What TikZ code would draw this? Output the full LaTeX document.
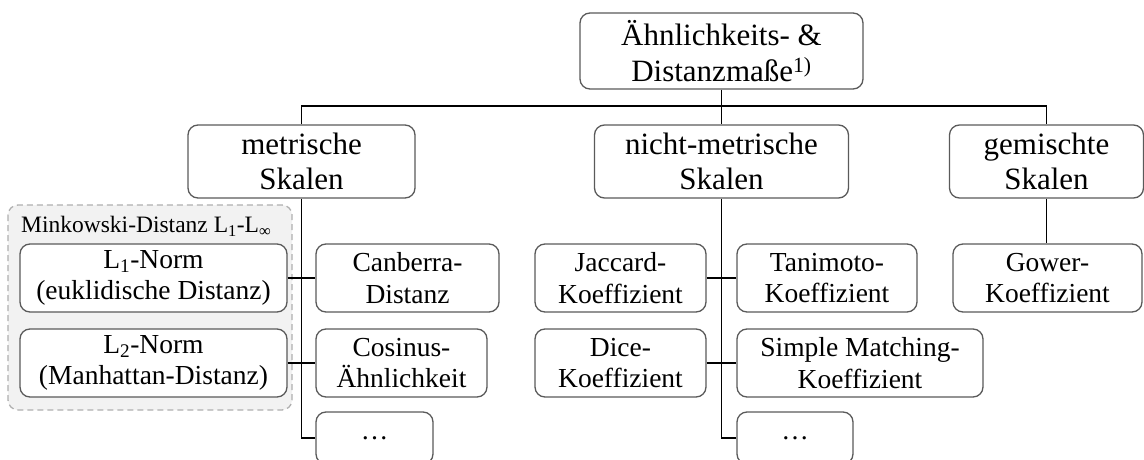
\documentclass[tikz,border=0pt]{standalone}
\usepackage{fontspec}
\setmainfont{Liberation Serif}
\definecolor{boxline}{RGB}{90,90,90}
\definecolor{groupfill}{RGB}{242,242,242}
\definecolor{groupline}{RGB}{175,175,175}
\tikzset{
  box/.style={draw=boxline, line width=1.3pt, rounded corners=10pt, fill=white,
              align=center, inner sep=0pt},
  bigtext/.style={font=\fontsize{31}{35.5}\selectfont},
  smalltext/.style={font=\fontsize{27.5}{31.5}\selectfont},
  link/.style={draw=black, line width=1.6pt},
  groupbox/.style={draw=groupline, dash pattern=on 6pt off 4pt, line width=1.3pt,
                   fill=groupfill, rounded corners=10pt}
}
\begin{document}
\begin{tikzpicture}[x=1pt, y=-1pt]
\useasboundingbox (0,0) rectangle (1144,460);

% Minkowski group background
\draw[groupbox] (8,205) rectangle (292,410);
\node[anchor=west, font=\fontsize{23.5}{27}\selectfont, inner sep=0pt] (mink) at (21,226)
  {Minkowski-Distanz L\textsubscript{1}-L\textsubscript{∞}};

% root and first level
\node[box, bigtext, minimum width=283pt, minimum height=76pt] (root) at (721.5,51)
  {Ähnlichkeits- \&\\Distanzmaße\textsuperscript{1)}};
\node[box, bigtext, minimum width=227pt, minimum height=73pt] (metr) at (301.5,161.5)
  {metrische\\Skalen};
\node[box, bigtext, minimum width=254pt, minimum height=73pt] (nmetr) at (721.5,161.5)
  {nicht-metrische\\Skalen};
\node[box, bigtext, minimum width=194pt, minimum height=73pt] (gem) at (1046.5,161.5)
  {gemischte\\Skalen};

% metric measures
\node[box, smalltext, minimum width=267pt, minimum height=68pt] (lone) at (153.5,278)
  {L\textsubscript{1}-Norm\\(euklidische Distanz)};
\node[box, smalltext, minimum width=267pt, minimum height=68pt] (ltwo) at (153.5,363)
  {L\textsubscript{2}-Norm\\(Manhattan-Distanz)};
\node[box, smalltext, minimum width=183pt, minimum height=68pt] (canb) at (407.5,278)
  {Canberra-\\Distanz};
\node[box, smalltext, minimum width=171pt, minimum height=68pt] (cosi) at (401.5,363)
  {Cosinus-\\Ähnlichkeit};
\node[box, smalltext, minimum width=117pt, minimum height=52pt] (mdots) at (374.5,438)
  {…};

% non-metric measures
\node[box, smalltext, minimum width=171pt, minimum height=68pt] (jacc) at (620.5,278)
  {Jaccard-\\Koeffizient};
\node[box, smalltext, minimum width=171pt, minimum height=68pt] (dice) at (620.5,363)
  {Dice-\\Koeffizient};
\node[box, smalltext, minimum width=180pt, minimum height=68pt] (tani) at (827,278)
  {Tanimoto-\\Koeffizient};
\node[box, smalltext, minimum width=246pt, minimum height=68pt] (simp) at (860,363)
  {Simple Matching-\\Koeffizient};
\node[box, smalltext, minimum width=116pt, minimum height=52pt] (ndots) at (795,438)
  {…};

% mixed scales
\node[box, smalltext, minimum width=189pt, minimum height=68pt] (gower) at (1047.5,278)
  {Gower-\\Koeffizient};

% tree connectors
\coordinate (bus) at (0,106);
\draw[link] (root.south) -- (nmetr.north);
\draw[link] (metr.north) -- (metr.north |- bus) -- (gem.north |- bus) -- (gem.north);
\draw[link] (gem.south) -- (gem.south |- gower.north);

\draw[link] (metr.south) |- (mdots.west);
\draw[link] (lone.east) -- (canb.west);
\draw[link] (ltwo.east) -- (cosi.west);

\draw[link] (nmetr.south) |- (ndots.west);
\draw[link] (jacc.east) -- (tani.west);
\draw[link] (dice.east) -- (simp.west);
\end{tikzpicture}
\end{document}
